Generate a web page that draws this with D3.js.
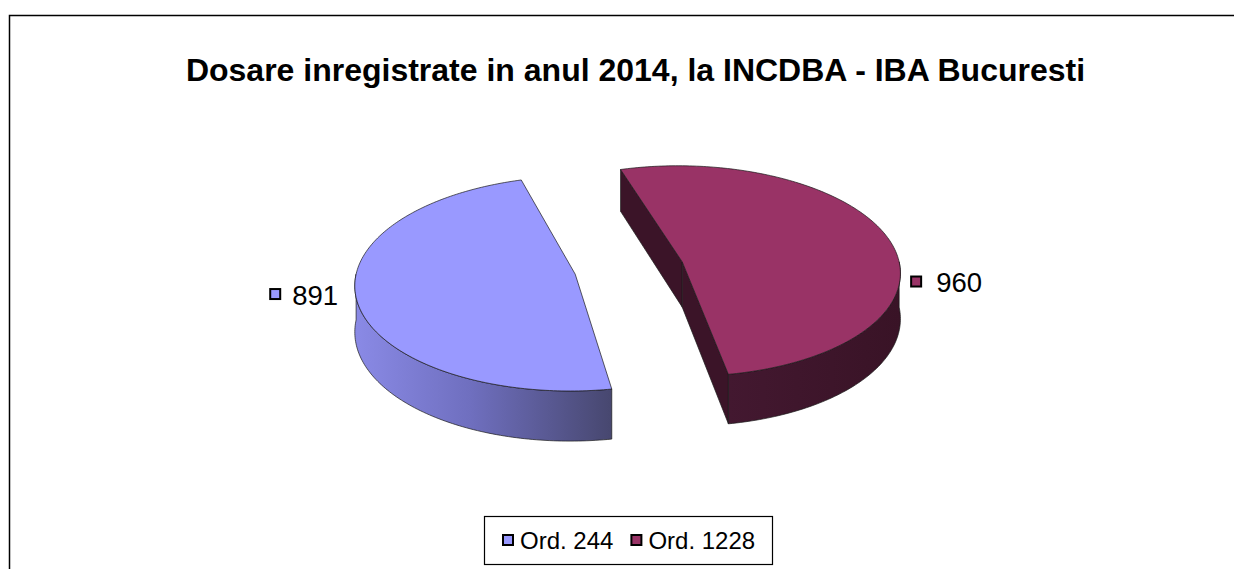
<!DOCTYPE html>
<html>
<head>
<meta charset="utf-8">
<script src="https://cdn.jsdelivr.net/npm/d3@7"></script>
<style>
  html, body { margin: 0; padding: 0; background: #fff; }
  svg { display: block; }
  text { font-family: Arial, "Liberation Sans", sans-serif; }
</style>
</head>
<body>
<svg id="chart" width="1234" height="569"></svg>
<script>
// ---- data ----
const title = "Dosare inregistrate in anul 2014, la INCDBA - IBA Bucuresti";
const categories = ["Ord. 244", "Ord. 1228"];
const values = [891, 960];
const topColors = ["#9999FF", "#993366"];

// ---- layout ----
const W = 1234, H = 569;
const svg = d3.select("#chart");
const cx = 629, cy = 268;        // pie centre (before explosion)
const R = 218;                   // horizontal radius
const tilt = 0.484;              // vertical squash of the disk
const persp = 0.087;             // perspective strength
const depth = 45.5;              // thickness of the disk
const explode = 55;              // explosion distance
const deg = Math.PI / 180;

// chart area frame
svg.append("rect").attr("x", 9.5).attr("y", 15.5).attr("width", W).attr("height", H)
  .attr("fill", "#fff").attr("stroke", "#000").attr("stroke-width", 1.5);

svg.append("text").attr("x", 635.5).attr("y", 81).attr("text-anchor", "middle")
  .attr("font-size", 32).attr("font-weight", "bold").attr("fill", "#000").text(title);

// pie angles (clockwise from 12 o'clock)
const pie = d3.pie().sort(null).value(d => d)
  .startAngle(170 * deg).endAngle(530 * deg);
const arcs = pie(values);

// 3D projection of point (x3 right, z3 far, d down)
function proj(x3, z3, d) {
  const s = 1 / (1 + persp * z3 / R);
  return [cx + x3 * s, cy - tilt * z3 * s + d * s];
}
function rimPt(a, off, d) {
  return proj(off[0] + R * Math.sin(a), off[1] + R * Math.cos(a), d);
}
function arcPts(a0, a1, off, d) {
  const n = Math.max(2, Math.ceil(Math.abs(a1 - a0) / (1 * deg)));
  return d3.range(n + 1).map(i => rimPt(a0 + (a1 - a0) * i / n, off, d));
}
const line = d3.line();

const defs = svg.append("defs");
const sideGrad = [
  { id: "g0", stops: [["0%", "#8a8ae6"], ["45%", "#6f6fbf"], ["100%", "#47476f"]] },
  { id: "g1", stops: [["0%", "#431830"], ["100%", "#391326"]] }
];
sideGrad.forEach(g => {
  const lg = defs.append("linearGradient").attr("id", g.id)
    .attr("x1", "0%").attr("x2", "100%").attr("y1", "0%").attr("y2", "0%");
  g.stops.forEach(s => lg.append("stop").attr("offset", s[0]).attr("stop-color", s[1]));
});
const wallColors = ["#55558f", "#3b1428"];
const edge = "#1a1a1a";

const gPie = svg.append("g");
arcs.forEach((a, i) => {
  const mid = (a.startAngle + a.endAngle) / 2;
  const off = [explode * Math.sin(mid), explode * Math.cos(mid)];
  const apexT = proj(off[0], off[1], 0), apexB = proj(off[0], off[1], depth);
  const g = gPie.append("g");

  // radial walls, drawn if their outward normal faces the viewer
  [[a.startAngle, a.startAngle - 90 * deg], [a.endAngle, a.endAngle + 90 * deg]].forEach(([ang, nrm]) => {
    if (Math.cos(nrm) < 0) {
      const rt = rimPt(ang, off, 0), rb = rimPt(ang, off, depth);
      g.append("path").attr("d", line([apexT, rt, rb, apexB]) + "Z")
        .attr("fill", wallColors[i])
        .attr("stroke", edge).attr("stroke-width", 0.7).attr("stroke-linejoin", "round");
    }
  });

  // outer curved wall (near half only)
  const w0 = a.startAngle, w1 = a.endAngle;
  const segs = [];
  for (let k = -1; k <= 2; k++) {
    const lo = Math.max(w0, 90 * deg + k * 360 * deg), hi = Math.min(w1, 270 * deg + k * 360 * deg);
    if (hi > lo) segs.push([lo, hi]);
  }
  segs.forEach(([lo, hi]) => {
    const top = arcPts(lo, hi, off, 0), bot = arcPts(hi, lo, off, depth);
    g.append("path").attr("d", line(top.concat(bot)) + "Z")
      .attr("fill", `url(#g${i})`)
      .attr("stroke", edge).attr("stroke-width", 0.7).attr("stroke-linejoin", "round");
  });

  // top face
  const rim = arcPts(a.startAngle, a.endAngle, off, 0);
  g.append("path").attr("d", line([apexT].concat(rim)) + "Z")
    .attr("fill", topColors[i]).attr("stroke", edge).attr("stroke-width", 0.7)
    .attr("stroke-linejoin", "round");

  // data label beside the disk
  const side = Math.sin(mid) < 0 ? -1 : 1;
  const ext = rimPt(side < 0 ? 270 * deg : 90 * deg, off, depth / 2);
  const ly = ext[1] - 2;
  const lab = svg.append("g");
  if (side < 0) {
    const tx = ext[0] - 18;
    const t = lab.append("text").attr("x", tx).attr("y", ly).attr("dy", "0.35em")
      .attr("text-anchor", "end").attr("font-size", 27.5).text(values[i]);
    const tw = t.node().getComputedTextLength();
    lab.append("rect").attr("x", tx - tw - 22).attr("y", ly - 6).attr("width", 10).attr("height", 10)
      .attr("fill", topColors[i]).attr("stroke", "#000").attr("stroke-width", 2);
  } else {
    const mx = ext[0] + 12;
    lab.append("rect").attr("x", mx).attr("y", ly - 6).attr("width", 10).attr("height", 10)
      .attr("fill", topColors[i]).attr("stroke", "#000").attr("stroke-width", 2);
    lab.append("text").attr("x", mx + 25).attr("y", ly).attr("dy", "0.35em")
      .attr("font-size", 27.5).text(values[i]);
  }
});

// legend
const leg = svg.append("g");
leg.append("rect").attr("x", 484.5).attr("y", 516.5).attr("width", 288).attr("height", 48)
  .attr("fill", "#fff").attr("stroke", "#000").attr("stroke-width", 1.2);
let lx = 503;
categories.forEach((c, i) => {
  leg.append("rect").attr("x", lx).attr("y", 535).attr("width", 10).attr("height", 10)
    .attr("fill", topColors[i]).attr("stroke", "#000").attr("stroke-width", 2);
  const t = leg.append("text").attr("x", lx + 17).attr("y", 549).attr("font-size", 24).text(c);
  lx += 17 + t.node().getComputedTextLength() + 18;
});
</script>
</body>
</html>
